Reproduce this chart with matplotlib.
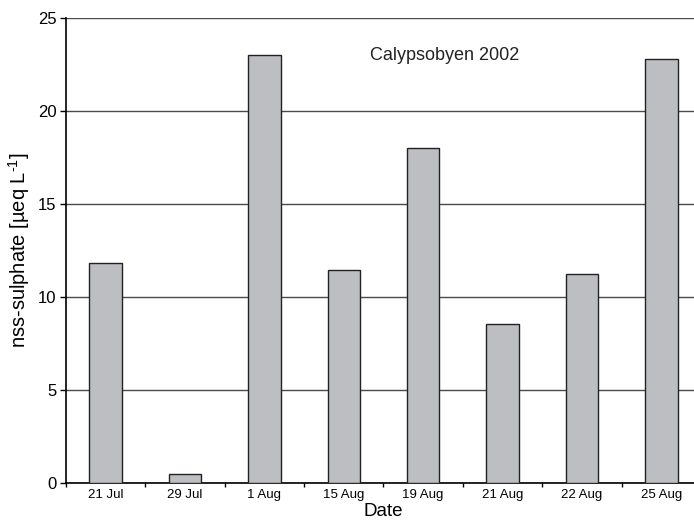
import numpy as np
import matplotlib.pyplot as plt
from matplotlib.ticker import FixedLocator

plt.rcParams['font.family'] = ['Liberation Sans', 'DejaVu Sans']
plt.rcParams['mathtext.fontset'] = 'custom'
plt.rcParams['mathtext.rm'] = 'Liberation Sans'

dates = ['21 Jul', '29 Jul', '1 Aug', '15 Aug', '19 Aug', '21 Aug', '22 Aug', '25 Aug']
sulphate = [11.85, 0.5, 23.0, 11.45, 18.0, 8.55, 11.25, 22.8]
yticks = [0, 5, 10, 15, 20, 25]

fig = plt.figure(figsize=(6.94, 5.24), dpi=100)
ax = fig.add_axes([66 / 694, 41 / 524, 635 / 694, 465 / 524])

x = np.arange(len(dates))
ax.bar(x, sulphate, width=0.41, color='#bdbec2', edgecolor='#222222', linewidth=1.0, zorder=3)

ax.set_xlim(-0.5, len(dates) - 0.5)
ax.set_ylim(0, 25)
ax.set_yticks(yticks)
ax.yaxis.grid(True, color='#4a4a4a', linewidth=1.0, zorder=0)
ax.set_axisbelow(True)

ax.set_xticks(x)
ax.set_xticklabels(dates, fontsize=9.5)
ax.xaxis.set_minor_locator(FixedLocator(np.arange(-0.5, len(dates), 1.0)))
ax.tick_params(axis='x', which='major', length=0, pad=4)
ax.tick_params(axis='x', which='minor', length=3, width=1, direction='out')
ax.tick_params(axis='y', labelsize=12, length=4, width=1, direction='out', pad=3)

for s in ['top', 'right']:
    ax.spines[s].set_visible(False)
ax.spines['left'].set_linewidth(1.2)
ax.spines['bottom'].set_linewidth(1.2)

ax.text(4.27, 23.0, 'Calypsobyen 2002', fontsize=13, ha='center', va='center', color='#222222')

ax.set_xlabel('Date', fontsize=13.5, labelpad=2)
ax.set_ylabel(r'nss-sulphate [µeq L$^{\mathrm{\text{-}1}}$]', fontsize=14.5, labelpad=4)

fig.savefig('out.png', dpi=100)
